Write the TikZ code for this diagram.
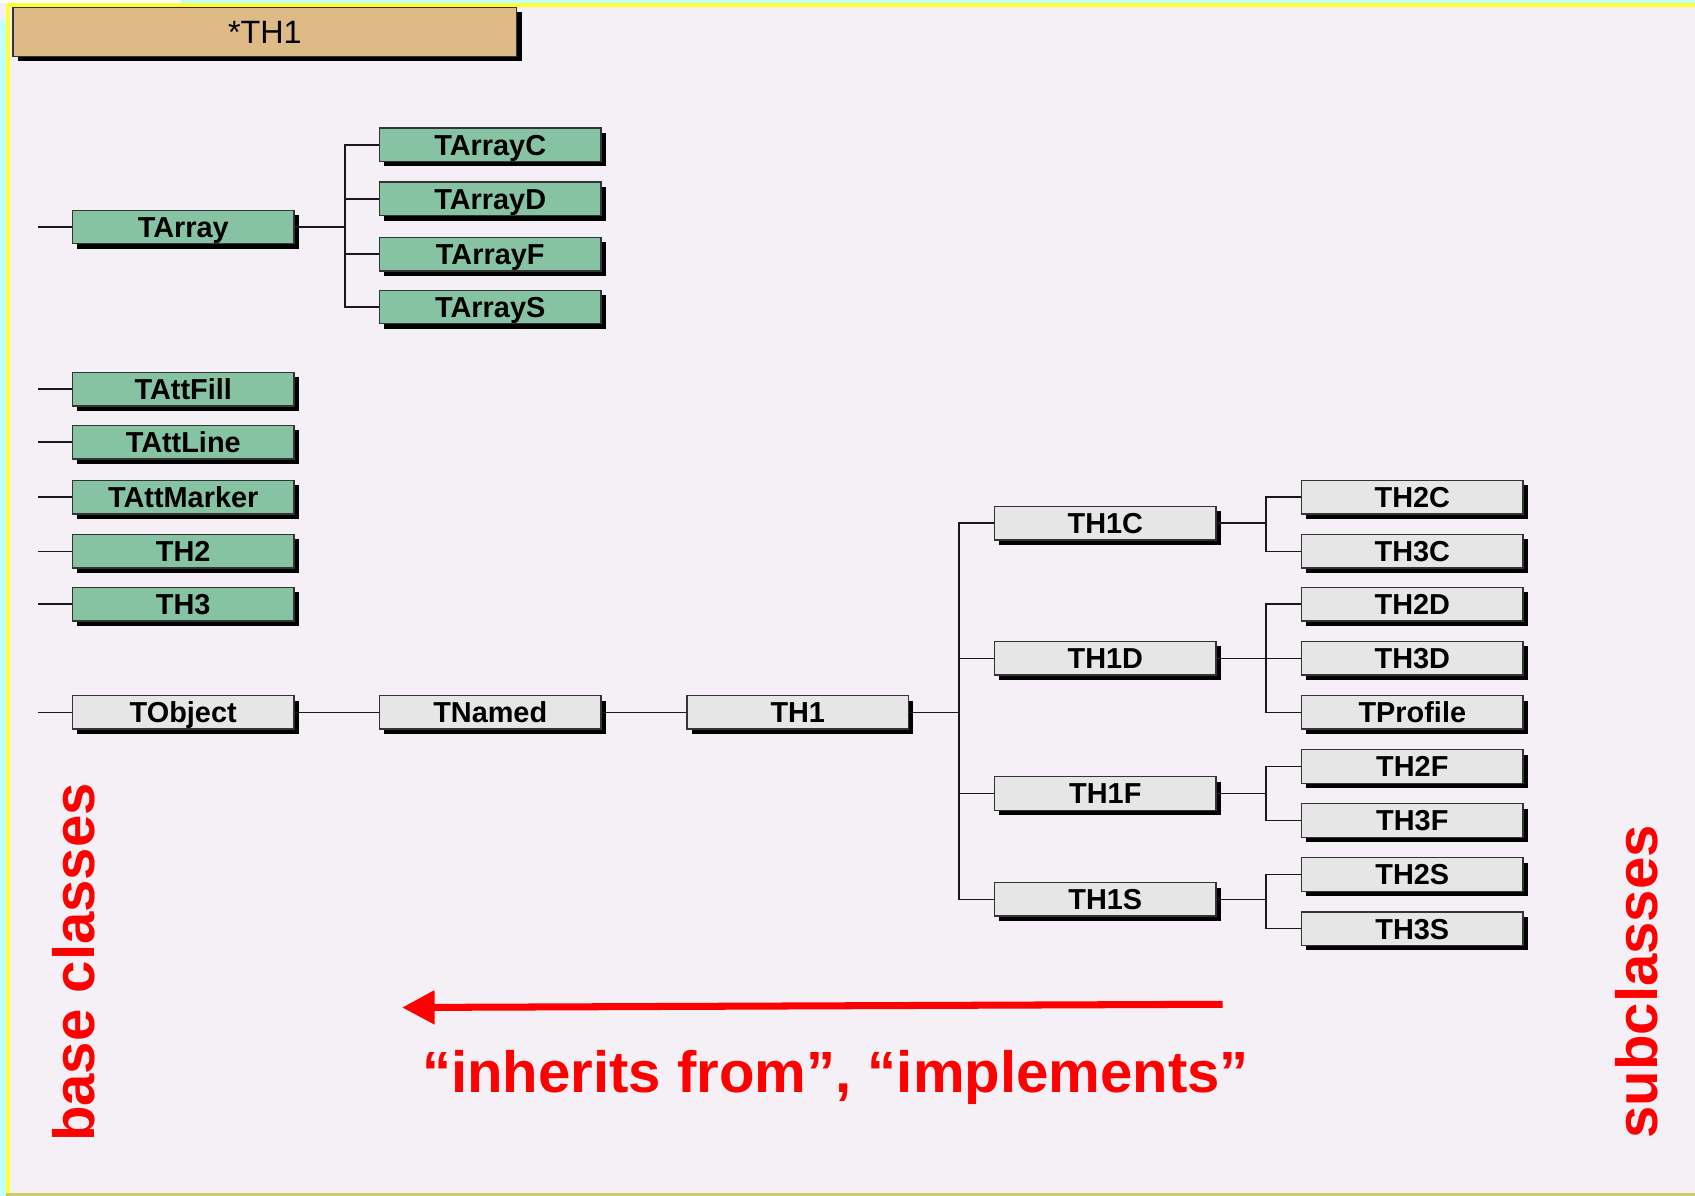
\documentclass[tikz,border=0pt]{standalone}
\usepackage{fontspec}
\setmainfont{Liberation Sans}
\usetikzlibrary{arrows.meta,shadows}
\definecolor{pagebg}{HTML}{F5F0F5}
\definecolor{edgecyan}{HTML}{C4FFFF}
\definecolor{edgeyellow}{HTML}{FFFF33}
\definecolor{edgeolive}{HTML}{CCCC66}
\definecolor{tanfill}{HTML}{DEBA86}
\definecolor{greenfill}{HTML}{86C3A3}
\definecolor{greyfill}{HTML}{E6E6E6}

\begin{document}
\begin{tikzpicture}[x=0.1mm, y=-0.1mm,
    clsbox/.style={draw=black!80, line width=0.13mm, minimum width=20.5mm, minimum height=3.1mm, inner sep=0pt,
      text height=5.5pt, text depth=0pt, font=\fontsize{7.6}{9}\selectfont\bfseries,
      drop shadow={shadow xshift=0.45mm, shadow yshift=-0.45mm, fill=black, opacity=1}},
    greenbox/.style={clsbox, fill=greenfill},
    greybox/.style={clsbox, fill=greyfill},
    tanbox/.style={clsbox, fill=tanfill, minimum width=46.6mm, minimum height=4.5mm,
      text height=6.1pt, font=\fontsize{8.5}{10}\selectfont},
    link/.style={line width=0.15mm, black!90},
    redtext/.style={text=red, inner sep=0pt, font=\fontsize{15.3}{18}\selectfont\bfseries}]
    \useasboundingbox (0,0) rectangle (1568,1106);
    % page and its edges
    \fill[pagebg] (0,0) rectangle (1568,1106);
    \fill[white] (0,0) rectangle (167,2.8);
    \fill[edgecyan] (167,0) rectangle (1568,2.8);
    \fill[edgecyan] (0,18) rectangle (5.5,1106);
    \fill[edgeyellow] (5.5,2.8) rectangle (1568,6.5);
    \fill[edgeyellow] (5.5,2.8) rectangle (9,1103.5);
    \fill[edgeolive] (5.5,1103.5) rectangle (1568,1106);

    \node[tanbox] (TH1star) at (245,29.5) {*TH1};

    % base classes
    \node[greenbox] (TArray) at (169.5,210) {TArray};
    \node[greenbox] (TArrayC) at (453.5,134) {TArrayC};
    \node[greenbox] (TArrayD) at (453.5,184) {TArrayD};
    \node[greenbox] (TArrayF) at (453.5,235) {TArrayF};
    \node[greenbox] (TArrayS) at (453.5,284) {TArrayS};
    \node[greenbox] (TAttFill) at (169.5,360) {TAttFill};
    \node[greenbox] (TAttLine) at (169.5,409) {TAttLine};
    \node[greenbox] (TAttMarker) at (169.5,460) {TAttMarker};
    \node[greenbox] (TH2) at (169.5,510) {TH2};
    \node[greenbox] (TH3) at (169.5,559) {TH3};

    \node[greybox] (TObject) at (169.5,659) {TObject};
    \node[greybox] (TNamed) at (453.5,659) {TNamed};
    \node[greybox] (TH1) at (738,659) {TH1};

    % subclasses
    \node[greybox] (TH1C) at (1022.5,484) {TH1C};
    \node[greybox] (TH1D) at (1022.5,609) {TH1D};
    \node[greybox] (TH1F) at (1022.5,734) {TH1F};
    \node[greybox] (TH1S) at (1022.5,832) {TH1S};
    \node[greybox] (TH2C) at (1306.5,460) {TH2C};
    \node[greybox] (TH3C) at (1306.5,510) {TH3C};
    \node[greybox] (TH2D) at (1306.5,559) {TH2D};
    \node[greybox] (TH3D) at (1306.5,609) {TH3D};
    \node[greybox] (TProfile) at (1306.5,659) {TProfile};
    \node[greybox] (TH2F) at (1306.5,709) {TH2F};
    \node[greybox] (TH3F) at (1306.5,759) {TH3F};
    \node[greybox] (TH2S) at (1306.5,809) {TH2S};
    \node[greybox] (TH3S) at (1306.5,859) {TH3S};

    % tree lines
    \draw[link] (TArray.west) -- ++(-31,0);
    \draw[link] (TAttFill.west) -- ++(-31,0);
    \draw[link] (TAttLine.west) -- ++(-31,0);
    \draw[link] (TAttMarker.west) -- ++(-31,0);
    \draw[link] (TH2.west) -- ++(-31,0);
    \draw[link] (TH3.west) -- ++(-31,0);
    \draw[link] (TObject.west) -- ++(-31,0);
    \draw[link] (TArrayC.west) -- ++(-31,0) |- (TArray.east);
    \draw[link] (TArrayD.west) -- ++(-31,0) |- (TArray.east);
    \draw[link] (TArrayF.west) -- ++(-31,0) |- (TArray.east);
    \draw[link] (TArrayS.west) -- ++(-31,0) |- (TArray.east);
    \draw[link] (TNamed.west) -- (TObject.east);
    \draw[link] (TH1.west) -- (TNamed.east);
    \draw[link] (TH1C.west) -- ++(-32,0) |- (TH1.east);
    \draw[link] (TH1D.west) -- ++(-32,0) |- (TH1.east);
    \draw[link] (TH1F.west) -- ++(-32,0) |- (TH1.east);
    \draw[link] (TH1S.west) -- ++(-32,0) |- (TH1.east);
    \draw[link] (TH2C.west) -- ++(-32,0) |- (TH1C.east);
    \draw[link] (TH3C.west) -- ++(-32,0) |- (TH1C.east);
    \draw[link] (TH2D.west) -- ++(-32,0) |- (TProfile.west);
    \draw[link] (TH3D.west) -- (TH1D.east);
    \draw[link] (TH2F.west) -- ++(-32,0) |- (TH1F.east);
    \draw[link] (TH3F.west) -- ++(-32,0) |- (TH1F.east);
    \draw[link] (TH2S.west) -- ++(-32,0) |- (TH1S.east);
    \draw[link] (TH3S.west) -- ++(-32,0) |- (TH1S.east);

    % red notes
    \coordinate (arrowstart) at (1131,929);
    \coordinate (arrowtip) at (372,932);
    \draw[red, line width=0.65mm, -{Triangle[length=3mm,width=3mm]}] (arrowstart) -- (arrowtip);
    \node[redtext, anchor=base] (inherits) at (773,1011) {“inherits from”, “implements”};
    \node[redtext, rotate=90, anchor=base west] (baselabel) at (87,1057) {base classes};
    \node[redtext, rotate=90, anchor=base west] (sublabel) at (1533,1054) {subclasses};
\end{tikzpicture}
\end{document}
